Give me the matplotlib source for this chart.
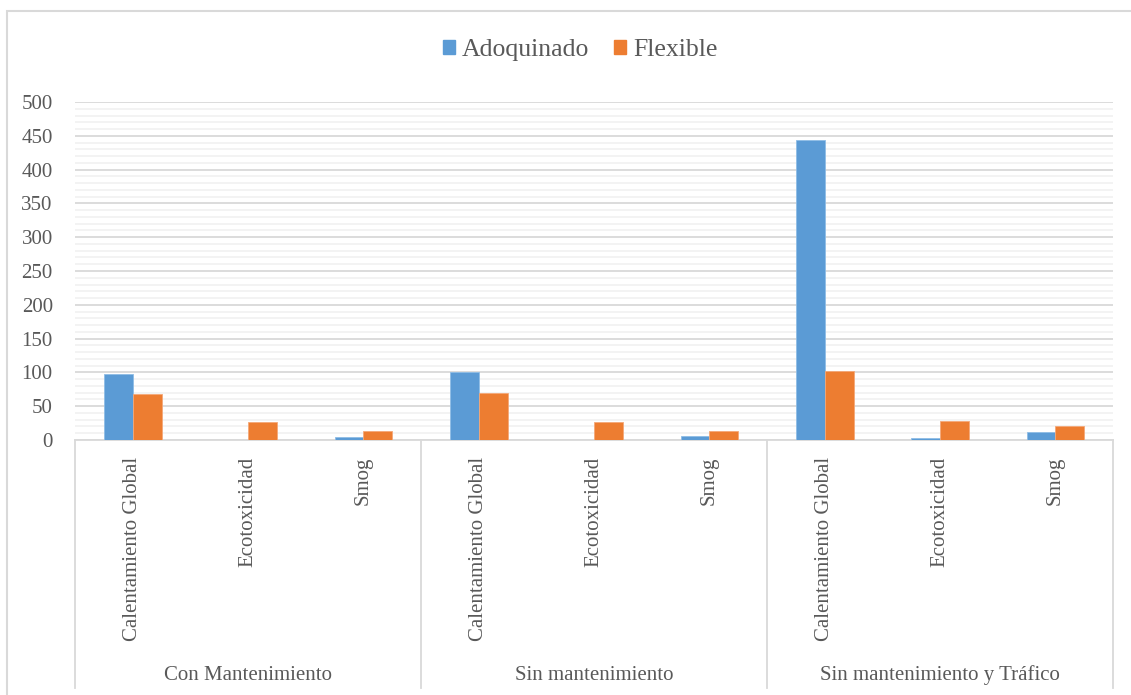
import matplotlib
matplotlib.use('Agg')
import numpy as np
import matplotlib.pyplot as plt
from matplotlib.patches import Rectangle, Patch

# ---- data ----
groups = ['Con Mantenimiento', 'Sin mantenimiento', 'Sin mantenimiento y Tráfico']
impacts = ['Calentamiento Global', 'Ecotoxicidad', 'Smog']
adoquinado = [98, 0.3, 5, 101, 0.3, 6, 444, 2.5, 11.5]
flexible = [67.5, 26.5, 13.5, 69.5, 27, 14, 102.5, 28, 20.5]
series_names = ['Adoquinado', 'Flexible']

BLUE = '#5B9BD5'
ORANGE = '#ED7D31'
TXT = '#595959'

plt.rcParams['font.family'] = ['Liberation Serif', 'DejaVu Serif']

W, H = 1131, 695
fig = plt.figure(figsize=(W / 100, H / 100), dpi=100)

# outer chart frame
fig.patches.append(Rectangle((7 / W, -0.05), 1.2, 1 - 11 / H + 0.05,
                             transform=fig.transFigure, fill=False,
                             edgecolor='#d9d9d9', linewidth=1.5))

x0, x1, y0, y1 = 75, 1113, 440, 102
ax = fig.add_axes([x0 / W, 1 - y0 / H, (x1 - x0) / W, (y0 - y1) / H])

n = len(adoquinado)
x = np.arange(n)
bw = 0.25
ax.bar(x - bw / 2, adoquinado, bw, color=BLUE, edgecolor='#8fbde6', linewidth=0.6, zorder=3)
ax.bar(x + bw / 2, flexible, bw, color=ORANGE, edgecolor='#f4a878', linewidth=0.6, zorder=3)

ax.set_xlim(-0.5, n - 0.5)
ax.set_ylim(0, 500)
ax.set_yticks(np.arange(0, 501, 50))
ax.set_yticks(np.arange(0, 501, 10), minor=True)
ax.grid(axis='y', which='major', color='#d9d9d9', linewidth=1.3, zorder=0)
ax.grid(axis='y', which='minor', color='#f2f2f2', linewidth=1.3, zorder=0)
ax.set_axisbelow(True)

for s in ['top', 'right', 'left']:
    ax.spines[s].set_visible(False)
ax.spines['bottom'].set_color('#d9d9d9')
ax.spines['bottom'].set_linewidth(1.3)

ax.set_xticks(x, impacts * len(groups), rotation=90, va='top', ha='center')
ax.tick_params(axis='x', length=0, pad=12, labelsize=15, labelcolor=TXT)
ax.tick_params(axis='y', which='both', length=0, pad=16, labelsize=15, labelcolor=TXT)

# group separators and group labels below the axis
depth = (688 - 440) / (440 - 102)
trans = ax.get_xaxis_transform()
for b in [-0.5, 2.5, 5.5, 8.5]:
    ax.plot([b, b], [0, -depth], transform=trans, color='#d9d9d9',
            linewidth=1.3, clip_on=False)
for i, g in enumerate(groups):
    ax.text(3 * i + 1, -(675 - 440) / (440 - 102), g, transform=trans,
            ha='center', va='center', fontsize=15, color=TXT)

handles = [Patch(color=BLUE), Patch(color=ORANGE)]
fig.legend(handles, series_names, loc='center', ncol=2, frameon=False,
           bbox_to_anchor=(580 / W, 1 - 50 / H), fontsize=18.5,
           handlelength=0.47, handleheight=0.47, handletextpad=0.25,
           columnspacing=1.0, labelcolor=TXT)

fig.savefig('out.png', dpi=100)
